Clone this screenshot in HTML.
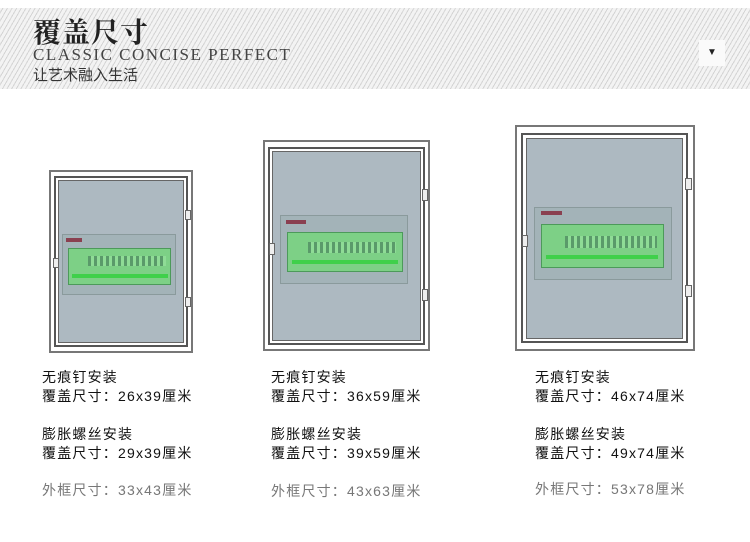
<!DOCTYPE html>
<html><head><meta charset="utf-8"><style>
body{margin:0;width:750px;height:542px;background:#fff;position:relative;overflow:hidden;font-family:"Liberation Sans","Noto Sans CJK SC",sans-serif}
.hdr{position:absolute;left:0;top:8px;width:750px;height:81px;background:repeating-linear-gradient(-60deg,#f3f3f3 0,#f3f3f3 3px,#d4d4d4 3px,#d4d4d4 4px)}
.t1{position:absolute;left:33px;top:11px;font-family:"Noto Serif CJK SC",serif;font-weight:bold;font-size:28px;color:#222;letter-spacing:1px}
.t2{position:absolute;left:33px;top:45px;font-family:"Liberation Serif",serif;font-size:17px;color:#444;letter-spacing:1.5px}
.t3{position:absolute;left:33px;top:64px;font-size:15px;color:#333;font-family:"Liberation Sans","Noto Sans CJK SC",sans-serif}
.tri{position:absolute;left:699px;top:40px;width:26px;height:26px;background:#fafafa;font-size:10px;text-align:center;line-height:26px;color:#222}
.a{position:absolute;box-sizing:border-box}
.txt{position:absolute;font-size:14px;color:#111;letter-spacing:1.2px;line-height:19px}
.g{color:#777}
</style></head><body>
<div class="hdr"></div>
<div class="t1">覆盖尺寸</div>
<div class="t2">CLASSIC CONCISE PERFECT</div>
<div class="t3">让艺术融入生活</div>
<div class="tri">▼</div>

<!-- Box1 -->
<div class="a" style="left:49px;top:170px;width:144px;height:183px;border:2px solid #777;background:#fff"></div>
<div class="a" style="left:54px;top:176px;width:134px;height:171px;border:2px solid #555;background:#fff"></div>
<div class="a" style="left:58px;top:180px;width:126px;height:163px;border:1px solid #666;background:#adb9c1"></div>
<div class="a" style="left:62px;top:234px;width:114px;height:61px;background:#a3b3b8;border:1px solid #8a9a9c"></div>
<div class="a" style="left:66px;top:238px;width:16px;height:4px;background:#8a4050"></div>
<div class="a" style="left:68px;top:248px;width:103px;height:37px;background:#7dd086;border:1px solid #4c9a5a"></div>
<div class="a" style="left:88px;top:256px;width:78px;height:10px;background:repeating-linear-gradient(90deg,#5a9a6a 0,#5a9a6a 3px,#8fdc96 3px,#8fdc96 6px)"></div>
<div class="a" style="left:72px;top:274px;width:96px;height:4px;background:#3fd04a"></div>
<div class="a" style="left:185px;top:210px;width:6px;height:10px;border:1px solid #666;background:#eee"></div>
<div class="a" style="left:185px;top:297px;width:6px;height:10px;border:1px solid #666;background:#eee"></div>
<div class="a" style="left:53px;top:258px;width:6px;height:10px;border:1px solid #666;background:#eee"></div>

<!-- Box2 -->
<div class="a" style="left:263px;top:140px;width:167px;height:211px;border:2px solid #777;background:#fff"></div>
<div class="a" style="left:268px;top:147px;width:157px;height:198px;border:2px solid #555;background:#fff"></div>
<div class="a" style="left:272px;top:151px;width:149px;height:190px;border:1px solid #666;background:#adb9c1"></div>
<div class="a" style="left:280px;top:215px;width:128px;height:69px;background:#a3b3b8;border:1px solid #8a9a9c"></div>
<div class="a" style="left:286px;top:220px;width:20px;height:4px;background:#8a4050"></div>
<div class="a" style="left:287px;top:232px;width:116px;height:40px;background:#7dd086;border:1px solid #4c9a5a"></div>
<div class="a" style="left:308px;top:242px;width:88px;height:11px;background:repeating-linear-gradient(90deg,#5a9a6a 0,#5a9a6a 3px,#8fdc96 3px,#8fdc96 6px)"></div>
<div class="a" style="left:292px;top:260px;width:106px;height:4px;background:#3fd04a"></div>
<div class="a" style="left:422px;top:189px;width:6px;height:12px;border:1px solid #666;background:#eee"></div>
<div class="a" style="left:422px;top:289px;width:6px;height:12px;border:1px solid #666;background:#eee"></div>
<div class="a" style="left:269px;top:243px;width:6px;height:12px;border:1px solid #666;background:#eee"></div>

<!-- Box3 -->
<div class="a" style="left:515px;top:125px;width:180px;height:226px;border:2px solid #777;background:#fff"></div>
<div class="a" style="left:521px;top:133px;width:167px;height:210px;border:2px solid #555;background:#fff"></div>
<div class="a" style="left:526px;top:138px;width:157px;height:201px;border:1px solid #666;background:#adb9c1"></div>
<div class="a" style="left:534px;top:207px;width:138px;height:73px;background:#a3b3b8;border:1px solid #8a9a9c"></div>
<div class="a" style="left:541px;top:211px;width:21px;height:4px;background:#8a4050"></div>
<div class="a" style="left:541px;top:224px;width:123px;height:44px;background:#7dd086;border:1px solid #4c9a5a"></div>
<div class="a" style="left:565px;top:236px;width:92px;height:12px;background:repeating-linear-gradient(90deg,#5a9a6a 0,#5a9a6a 3px,#8fdc96 3px,#8fdc96 6px)"></div>
<div class="a" style="left:546px;top:255px;width:112px;height:4px;background:#3fd04a"></div>
<div class="a" style="left:685px;top:178px;width:7px;height:12px;border:1px solid #666;background:#eee"></div>
<div class="a" style="left:685px;top:285px;width:7px;height:12px;border:1px solid #666;background:#eee"></div>
<div class="a" style="left:522px;top:235px;width:6px;height:12px;border:1px solid #666;background:#eee"></div>

<div class="txt" style="left:42px;top:368px">无痕钉安装<br>覆盖尺寸：26x39厘米</div>
<div class="txt" style="left:42px;top:425px">膨胀螺丝安装<br>覆盖尺寸：29x39厘米</div>
<div class="txt g" style="left:42px;top:481px">外框尺寸：33x43厘米</div>

<div class="txt" style="left:271px;top:368px">无痕钉安装<br>覆盖尺寸：36x59厘米</div>
<div class="txt" style="left:271px;top:425px">膨胀螺丝安装<br>覆盖尺寸：39x59厘米</div>
<div class="txt g" style="left:271px;top:482px">外框尺寸：43x63厘米</div>

<div class="txt" style="left:535px;top:368px">无痕钉安装<br>覆盖尺寸：46x74厘米</div>
<div class="txt" style="left:535px;top:425px">膨胀螺丝安装<br>覆盖尺寸：49x74厘米</div>
<div class="txt g" style="left:535px;top:480px">外框尺寸：53x78厘米</div>
</body></html>
